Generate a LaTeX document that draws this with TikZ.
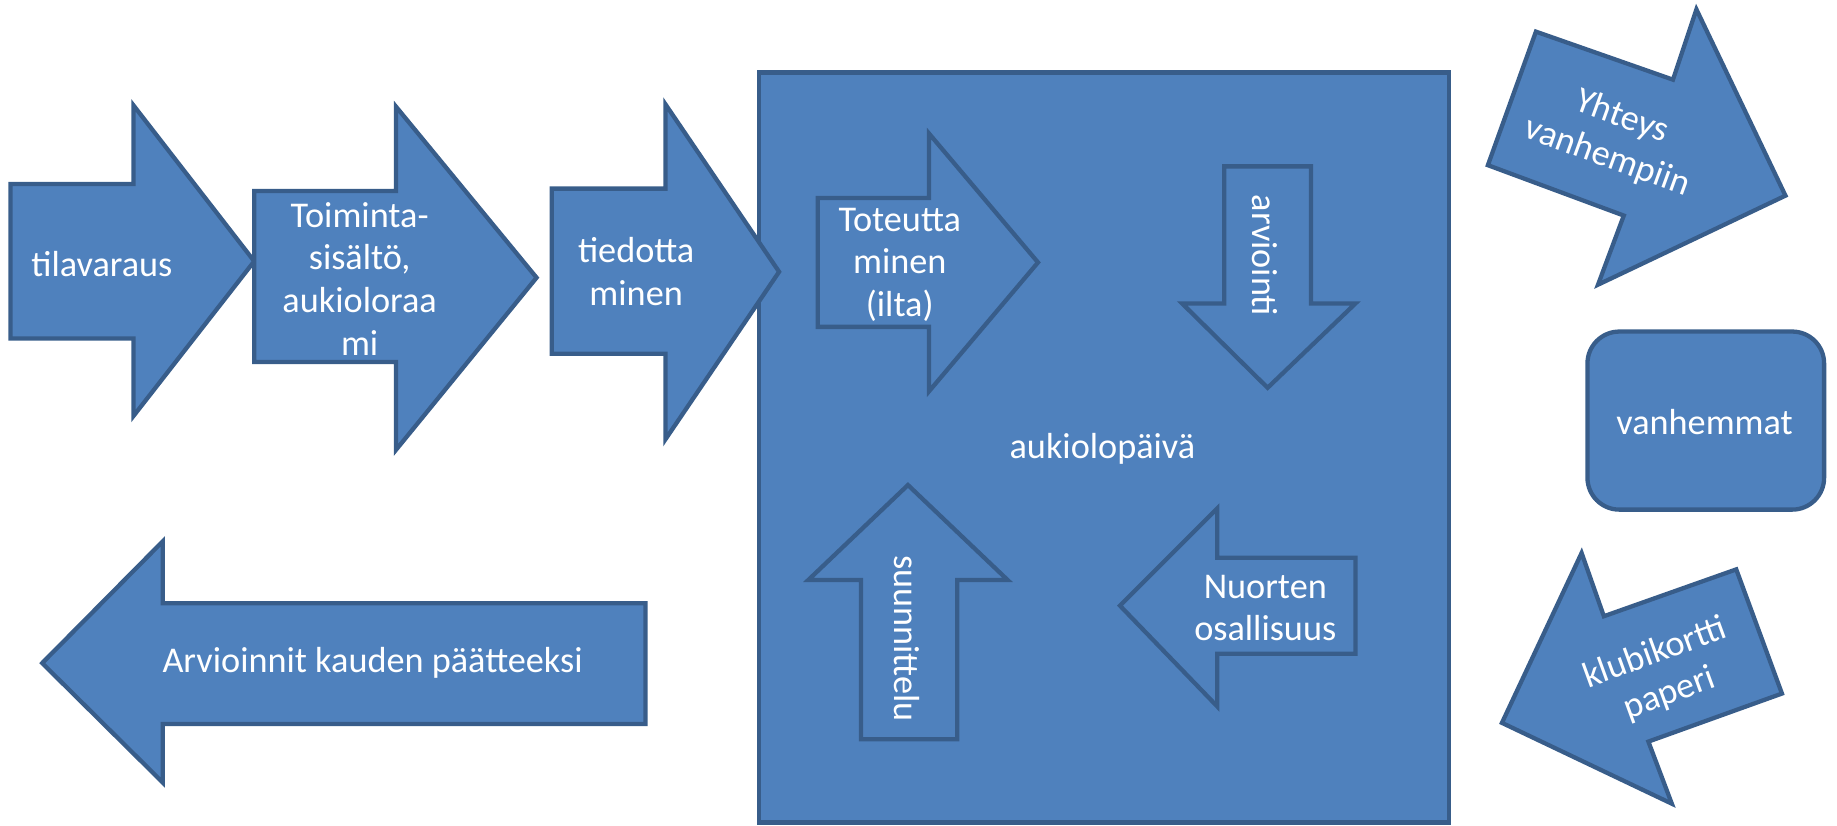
\documentclass[tikz,border=0pt]{standalone}
\usepackage{fontspec}
\setmainfont{Carlito}
\definecolor{fillb}{HTML}{4F81BD}
\definecolor{lineb}{HTML}{385D8A}
\tikzset{
  shp/.style={fill=fillb, draw=lineb, line width=2.6pt, line join=miter},
  lbl/.style={text=white, font=\fontsize{22}{26}\selectfont, align=center, inner sep=0pt}
}
\begin{document}
\begin{tikzpicture}[x=0.025cm,y=-0.025cm]
\useasboundingbox (0,0) rectangle (1568,704.2);
% big container
\draw[shp] (648,62) rectangle (1237,702);
% left chain
\draw[shp] (9,157) -- (114,157) -- (114,90) -- (217,223) -- (114,355) -- (114,289) -- (9,289) -- cycle;
\draw[shp] (217,163) -- (338,163) -- (338,91) -- (458,237) -- (338,384) -- (338,309) -- (217,309) -- cycle;
\draw[shp] (471,161) -- (568,161) -- (568,89) -- (665,232) -- (568,375) -- (568,302) -- (471,302) -- cycle;
% inner arrows
\draw[shp] (698,169) -- (793,169) -- (793,114) -- (886,224) -- (793,334) -- (793,279) -- (698,279) -- cycle;
\draw[shp] (1045,142) -- (1119,142) -- (1119,259) -- (1157,259) -- (1082,331) -- (1009,259) -- (1045,259) -- cycle;
\draw[shp] (735,631) -- (735,495) -- (690,495) -- (775,414) -- (860,495) -- (817,495) -- (817,631) -- cycle;
\draw[shp] (1157,476) -- (1157,558) -- (1039,558) -- (1039,603) -- (956,517) -- (1039,434) -- (1039,476) -- cycle;
% bottom left arrow
\draw[shp] (551,515) -- (551,618) -- (139,618) -- (139,668) -- (36,566) -- (139,462) -- (139,515) -- cycle;
% right side
\draw[shp] (1270,141) -- (1311,27) -- (1428,68) -- (1448,8) -- (1524,167) -- (1364,243) -- (1386,184) -- cycle;
\draw[shp, rounded corners=0.68cm] (1355,283) rectangle (1557,435);
\draw[shp] (1350,472) -- (1369,526) -- (1482,486) -- (1521,592) -- (1407,633) -- (1427,686) -- (1282,617) -- cycle;
% labels
\node[lbl] (tila) at (87,225) {tilavaraus};
\node[lbl] (toim) at (307,238) {Toiminta-\\sisältö,\\aukioloraa\\mi};
\node[lbl] (tied) at (543,232) {tiedotta\\minen};
\node[lbl] (tote) at (768,226) {Toteutta\\minen\\(ilta)};
\node[lbl, rotate=-90] (arvi) at (1080,218) {arviointi};
\node[lbl, rotate=-90] (suun) at (774,545) {suunnittelu};
\node[lbl] (nuor) at (1080,519) {Nuorten\\osallisuus};
\node[lbl] (auki) at (941,383) {aukiolopäivä};
\node[lbl] (kaud) at (318,566) {Arvioinnit kauden päätteeksi};
\node[lbl] (vanh) at (1455,360) {vanhemmat};
\node[lbl, rotate=-20] (yhte) at (1378,117) {Yhteys\\vanhempiin};
\node[lbl, rotate=20] (klub) at (1419,575) {klubikortti\\paperi};
\end{tikzpicture}
\end{document}
